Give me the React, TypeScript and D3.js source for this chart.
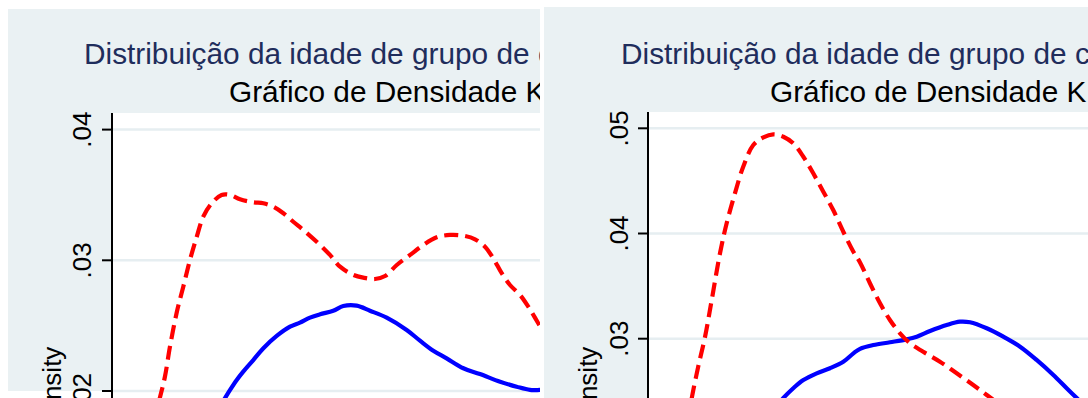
import React, { useEffect, useRef } from 'react';
import * as d3 from 'd3';

// tick values on the density axis
const leftTicks = [0.02, 0.03, 0.04];
const rightTicks = [0.03, 0.04, 0.05];

const titleText = 'Distribuição da idade de grupo de c';
const subtitleText = 'Gráfico de Densidade K';
const yAxisTitle = 'Density';

// left graph, red dashed curve (age, density)
const leftRedAge = [17.33, 17.67, 17.94, 18.22, 18.59, 18.96, 19.33, 19.71, 20.07, 20.54, 21.09, 21.56, 22.11, 22.85, 23.41, 23.96, 24.52, 25.07, 25.63, 26.37, 27.11, 27.67, 28.41, 28.96, 29.61, 30.17, 30.82, 31.56, 32.29, 33.04, 33.78, 34.52, 35.17, 35.72, 36.18, 36.65, 37.11, 37.67, 38.13, 38.68, 39.22];
const leftRedDensity = [0.0177, 0.01954, 0.02109, 0.02339, 0.02597, 0.02798, 0.03002, 0.03181, 0.03334, 0.03436, 0.035, 0.035, 0.03467, 0.03444, 0.03436, 0.0341, 0.0336, 0.03295, 0.03232, 0.03142, 0.03041, 0.02951, 0.02888, 0.02867, 0.02857, 0.0288, 0.02964, 0.03041, 0.03117, 0.03176, 0.03194, 0.03188, 0.03161, 0.03104, 0.03015, 0.02901, 0.02811, 0.02735, 0.02645, 0.02518, 0.0239];

// left graph, blue solid curve
const leftBlueAge = [21.0, 21.28, 21.56, 21.93, 22.29, 22.85, 23.41, 24.15, 24.89, 25.44, 26.0, 26.56, 27.29, 27.85, 28.59, 29.33, 30.26, 31.37, 32.11, 32.85, 33.59, 34.52, 35.44, 36.56, 37.48, 38.22, 38.78, 39.33];
const leftBlueDensity = [0.01885, 0.01946, 0.02008, 0.02084, 0.02148, 0.02237, 0.02327, 0.02421, 0.02492, 0.02523, 0.02561, 0.02587, 0.02614, 0.0265, 0.02653, 0.02614, 0.02561, 0.02467, 0.02385, 0.02308, 0.0225, 0.02174, 0.0213, 0.02071, 0.02033, 0.02008, 0.02008, 0.0201];

// right graph, red dashed curve
const rightRedAge = [17.22, 17.43, 17.79, 18.17, 18.54, 19.0, 19.37, 19.83, 20.29, 20.85, 21.41, 21.96, 22.52, 23.07, 23.63, 24.18, 24.74, 25.29, 25.85, 26.41, 26.78, 27.33, 27.89, 28.44, 29.0, 29.56, 30.29, 31.22, 32.15, 33.07, 33.82, 34.56];
const rightRedDensity = [0.02227, 0.02436, 0.02734, 0.03019, 0.03368, 0.03812, 0.04097, 0.04382, 0.04635, 0.04841, 0.04914, 0.04943, 0.0492, 0.04857, 0.0473, 0.04572, 0.04397, 0.04223, 0.04017, 0.03827, 0.03724, 0.03527, 0.03337, 0.03178, 0.03051, 0.02956, 0.02876, 0.02781, 0.02671, 0.0256, 0.02465, 0.0237];

// right graph, blue solid curve
const rightBlueAge = [22.06, 22.52, 23.07, 23.63, 24.37, 25.11, 25.85, 26.41, 26.78, 27.52, 28.44, 29.37, 29.93, 30.67, 31.59, 32.33, 32.89, 33.82, 34.74, 35.67, 36.59, 37.52, 38.26, 38.82, 39.44];
const rightBlueDensity = [0.02341, 0.02436, 0.02529, 0.02607, 0.02671, 0.02719, 0.02781, 0.02861, 0.02904, 0.0294, 0.02966, 0.02994, 0.03019, 0.03073, 0.0313, 0.03162, 0.03156, 0.03099, 0.03019, 0.02924, 0.02798, 0.02655, 0.02529, 0.02436, 0.02332];

const zip = (a: number[], b: number[]) => a.map((v, i) => [v, b[i]] as [number, number]);

const FONT = '"Liberation Sans", Arial, sans-serif';
const BG = '#eaf1f3';
const GRID = '#e6eef1';

const W = 1088;
const H = 398;

const App = () => {
    const svgRef = useRef<SVGSVGElement>(null);

    useEffect(() => {
        const svg = d3.select(svgRef.current);
        svg.selectAll('*').remove();

        const panels = [
            {
                id: 'left',
                clip: [0, 0, 540, H],
                bg: [8, 9, 532, 382],
                plotLeft: 112, plotTop: 113,
                xRange: [112, 1012], yRange: [391, 129.6],
                yDomain: [0.02, 0.04],
                ticks: leftTicks,
                red: zip(leftRedAge, leftRedDensity),
                blue: zip(leftBlueAge, leftBlueDensity),
                titleX: 84, titleY: 64, subX: 229, subY: 102,
                tickLabelX: 91, axisTitleX: 61,
            },
            {
                id: 'right',
                clip: [544, 0, W - 544, H],
                bg: [544, 7, W - 544, H - 7],
                plotLeft: 648, plotTop: 112,
                xRange: [648, 1548], yRange: [338.7, 128.3],
                yDomain: [0.03, 0.05],
                ticks: rightTicks,
                red: zip(rightRedAge, rightRedDensity),
                blue: zip(rightBlueAge, rightBlueDensity),
                titleX: 621, titleY: 63.5, subX: 770, subY: 101.5,
                tickLabelX: 628, axisTitleX: 597,
            },
        ];

        const defs = svg.append('defs');
        const fmt = (d: number) => d3.format('.2f')(d).replace(/^0/, '');

        panels.forEach(p => {
            defs.append('clipPath').attr('id', `clip-${p.id}`)
                .append('rect')
                .attr('x', p.clip[0]).attr('y', p.clip[1])
                .attr('width', p.clip[2]).attr('height', p.clip[3]);

            const g = svg.append('g').attr('clip-path', `url(#clip-${p.id})`);

            // graph region background
            g.append('rect')
                .attr('x', p.bg[0]).attr('y', p.bg[1])
                .attr('width', p.bg[2]).attr('height', p.bg[3])
                .attr('fill', BG);

            // plot region
            g.append('rect')
                .attr('x', p.plotLeft).attr('y', p.plotTop)
                .attr('width', 1000).attr('height', 600)
                .attr('fill', '#fff');

            const x = d3.scaleLinear().domain([15, 65]).range(p.xRange);
            const y = d3.scaleLinear().domain(p.yDomain).range(p.yRange);

            // gridlines
            g.selectAll('.grid')
                .data(p.ticks)
                .enter().append('line')
                .attr('x1', p.plotLeft).attr('x2', p.plotLeft + 1000)
                .attr('y1', d => y(d)).attr('y2', d => y(d))
                .attr('stroke', GRID).attr('stroke-width', 2.5);

            // titles
            g.append('text')
                .attr('x', p.titleX).attr('y', p.titleY)
                .attr('font-family', FONT).attr('font-size', 29.8)
                .attr('fill', '#1f2d5c')
                .text(titleText);
            g.append('text')
                .attr('x', p.subX).attr('y', p.subY)
                .attr('font-family', FONT).attr('font-size', 29.8)
                .attr('fill', '#000')
                .text(subtitleText);

            // y axis
            g.append('line')
                .attr('x1', p.plotLeft).attr('x2', p.plotLeft)
                .attr('y1', p.plotTop).attr('y2', H + 20)
                .attr('stroke', '#000').attr('stroke-width', 2);
            g.selectAll('.tick')
                .data(p.ticks)
                .enter().append('line')
                .attr('x1', p.plotLeft - 10).attr('x2', p.plotLeft)
                .attr('y1', d => y(d)).attr('y2', d => y(d))
                .attr('stroke', '#000').attr('stroke-width', 2);
            g.selectAll('.ticklabel')
                .data(p.ticks)
                .enter().append('text')
                .attr('transform', d => `translate(${p.tickLabelX},${y(d)}) rotate(-90)`)
                .attr('text-anchor', 'middle')
                .attr('font-family', FONT).attr('font-size', 26)
                .attr('fill', '#000')
                .text(fmt);
            g.append('text')
                .attr('transform', `translate(${p.axisTitleX},390) rotate(-90)`)
                .attr('text-anchor', 'middle')
                .attr('font-family', FONT).attr('font-size', 26)
                .attr('fill', '#000')
                .text(yAxisTitle);

            const line = d3.line<[number, number]>()
                .x(d => x(d[0]))
                .y(d => y(d[1]))
                .curve(d3.curveCatmullRom.alpha(0.5));

            g.append('path')
                .attr('d', line(p.blue))
                .attr('fill', 'none')
                .attr('stroke', '#0000ff')
                .attr('stroke-width', 4.2)
                .attr('stroke-linejoin', 'round');

            g.append('path')
                .attr('d', line(p.red))
                .attr('fill', 'none')
                .attr('stroke', '#ff0000')
                .attr('stroke-width', 4.2)
                .attr('stroke-dasharray', '14 7');
        });
    }, []);

    return (
        <svg
            ref={svgRef}
            width={W}
            height={H}
            style={{ position: 'absolute', left: 0, top: 0, display: 'block', background: '#fff' }}
        />
    );
};

export default App;
